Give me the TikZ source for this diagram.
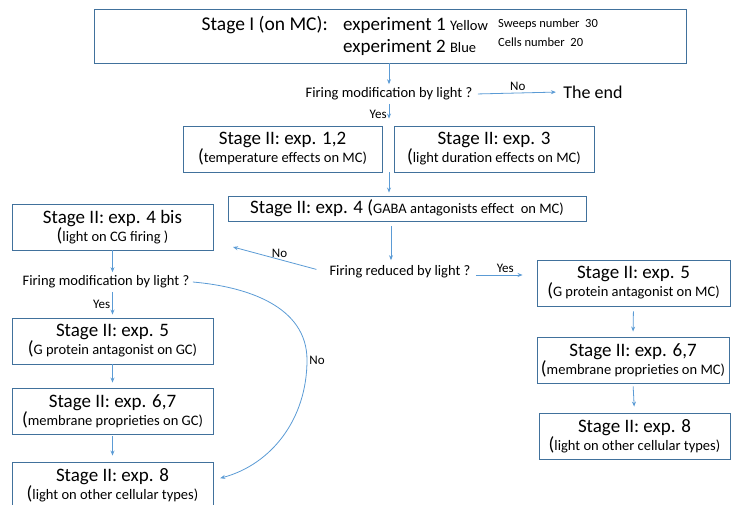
\documentclass[tikz,border=0pt]{standalone}
\usepackage{fontspec}
\setmainfont{Carlito}
\usepackage{tikz}
\usetikzlibrary{arrows.meta}
\definecolor{boxc}{HTML}{41719C}
\definecolor{arrc}{HTML}{5B9BD5}
\newcommand\tbig{\fontsize{19}{16}\selectfont}
\newcommand\tsub{\fontsize{14.5}{16}\selectfont}
\newcommand\tq{\fontsize{14.5}{16}\selectfont}
\newcommand\tsm{\fontsize{12.5}{14}\selectfont}
\newcommand\tlab{\fontsize{13}{14}\selectfont}

\begin{document}
\begin{tikzpicture}[x=1pt,y=-1pt,
    box/.style={draw=boxc,line width=0.9pt,minimum height=46pt,align=center,inner sep=0pt,font=\tsub},
    arr/.style={draw=arrc,line width=0.8pt,-{Stealth[length=5pt,width=4pt]}},
    lab/.style={font=\tlab,inner sep=2pt}]
        \useasboundingbox (0,0) rectangle (731,505);
        \node[box,minimum width=592pt,minimum height=54pt](top) at (390,36) {};
        \node[anchor=base east,inner sep=0pt,font=\fontsize{19.5}{16}\selectfont](s1) at (328,31) {Stage I (on MC):};
        \node[anchor=base west,inner sep=0pt](ex1) at (343,31) {\tbig experiment 1 {\tsub Yellow}};
        \node[anchor=base west,inner sep=0pt](ex2) at (343,53) {\tbig experiment 2 {\tsub Blue}};
        \node[anchor=base west,inner sep=0pt,font=\tsm](sw) at (498,28) {Sweeps number~ 30};
        \node[anchor=base west,inner sep=0pt,font=\tsm](ce) at (498,47) {Cells number~ 20};
        \node[font=\tq](q1) at (389,94) {Firing modification by light ?};
        \node[font=\fontsize{18}{16}\selectfont](theend) at (593,92) {The end};
        \node[box,minimum width=199pt](e12) at (282.5,149) {{\tbig Stage II: exp. 1,2}\\{\tbig(}temperature effects on MC)};
        \node[box,minimum width=200pt](e3) at (494,149) {{\tbig Stage II: exp. 3}\\{\tbig(}light duration effects on MC)};
        \node[box,minimum width=358pt,minimum height=25pt](e4) at (407,208.5) {{\tbig Stage II: exp. 4 (}GABA antagonists effect~ on MC)};
        \node[font=\tq](q2) at (400,272) {Firing reduced by light ?};
        \node[box,minimum width=201pt](e4bis) at (112.5,227) {{\tbig Stage II: exp. 4 bis}\\{\tbig(}light on CG firing )};
        \node[font=\tq](q3) at (106,282) {Firing modification by light ?};
        \node[box,minimum width=201pt](e5l) at (112.5,341) {{\tbig Stage II: exp. 5}\\{\tbig(}G protein antagonist on GC)};
        \node[box,minimum width=201pt](e67l) at (112.5,411) {{\tbig Stage II: exp. 6,7}\\{\tbig(}membrane proprieties on GC)};
        \node[box,minimum width=201pt](e8l) at (112.5,485) {{\tbig Stage II: exp. 8}\\{\tbig(}light on other cellular types)};
        \node[box,minimum width=193pt](e5r) at (633.5,283) {{\tbig Stage II: exp. 5}\\{\tbig(}G protein antagonist on MC)};
        \node[box,minimum width=192pt](e67r) at (633,360) {{\tbig Stage II: exp. 6,7}\\{\tbig(}membrane proprieties on MC)};
        \node[box,minimum width=191pt](e8r) at (634.5,436) {{\tbig Stage II: exp. 8}\\{\tbig(}light on other cellular types)};
        \coordinate(nohead) at (233,247);
        \coordinate(bend) at (307,360);
        \draw[arr](top.south -| q1.north)--(q1.north);
        \draw[arr,shorten <=2pt,shorten >=4pt](q1.east)--(theend.west) node[lab,midway,above]{No};
        \draw[arr,shorten >=7pt](q1.south)--(q1.south |- e3.north) node[lab,midway,left]{Yes};
        \draw[arr,shorten >=3pt](q1.south |- e3.south)--(q1.south |- e4.north);
        \draw[arr,shorten <=5pt,shorten >=2pt]([xshift=-16pt]e4.south)--([xshift=-16pt]e4.south |- q2.north);
        \draw[arr,shorten <=2pt,shorten >=14pt]([yshift=-3pt]q2.east)--([yshift=-3pt]q2.east -| e5r.west) node[lab,midway,above]{Yes};
        \draw[arr,shorten <=10pt](q2.west)--(nohead) node[lab,midway,above]{No};
        \draw[arr](e4bis.south)--(e4bis.south |- q3.north);
        \draw[arr,shorten >=3pt](e5l.north |- q3.south)--(e5l.north) node[lab,midway,left]{Yes};
        \draw[arr,shorten >=5pt](e5l.south)--(e67l.north);
        \draw[arr,shorten <=2pt,shorten >=6pt](e67l.south)--(e8l.north);
        \draw[arr,shorten <=5pt,shorten >=5pt](e5r.south)--(e67r.north);
        \draw[arr,shorten <=3pt,shorten >=6pt](e67r.south)--(e8r.north);
        \draw[arr,shorten >=7pt](q3.east) to[out=-5,in=90](bend) node[lab,right]{No} to[out=-90,in=15]([yshift=5pt]e8l.east);
    \end{tikzpicture}
\end{document}
